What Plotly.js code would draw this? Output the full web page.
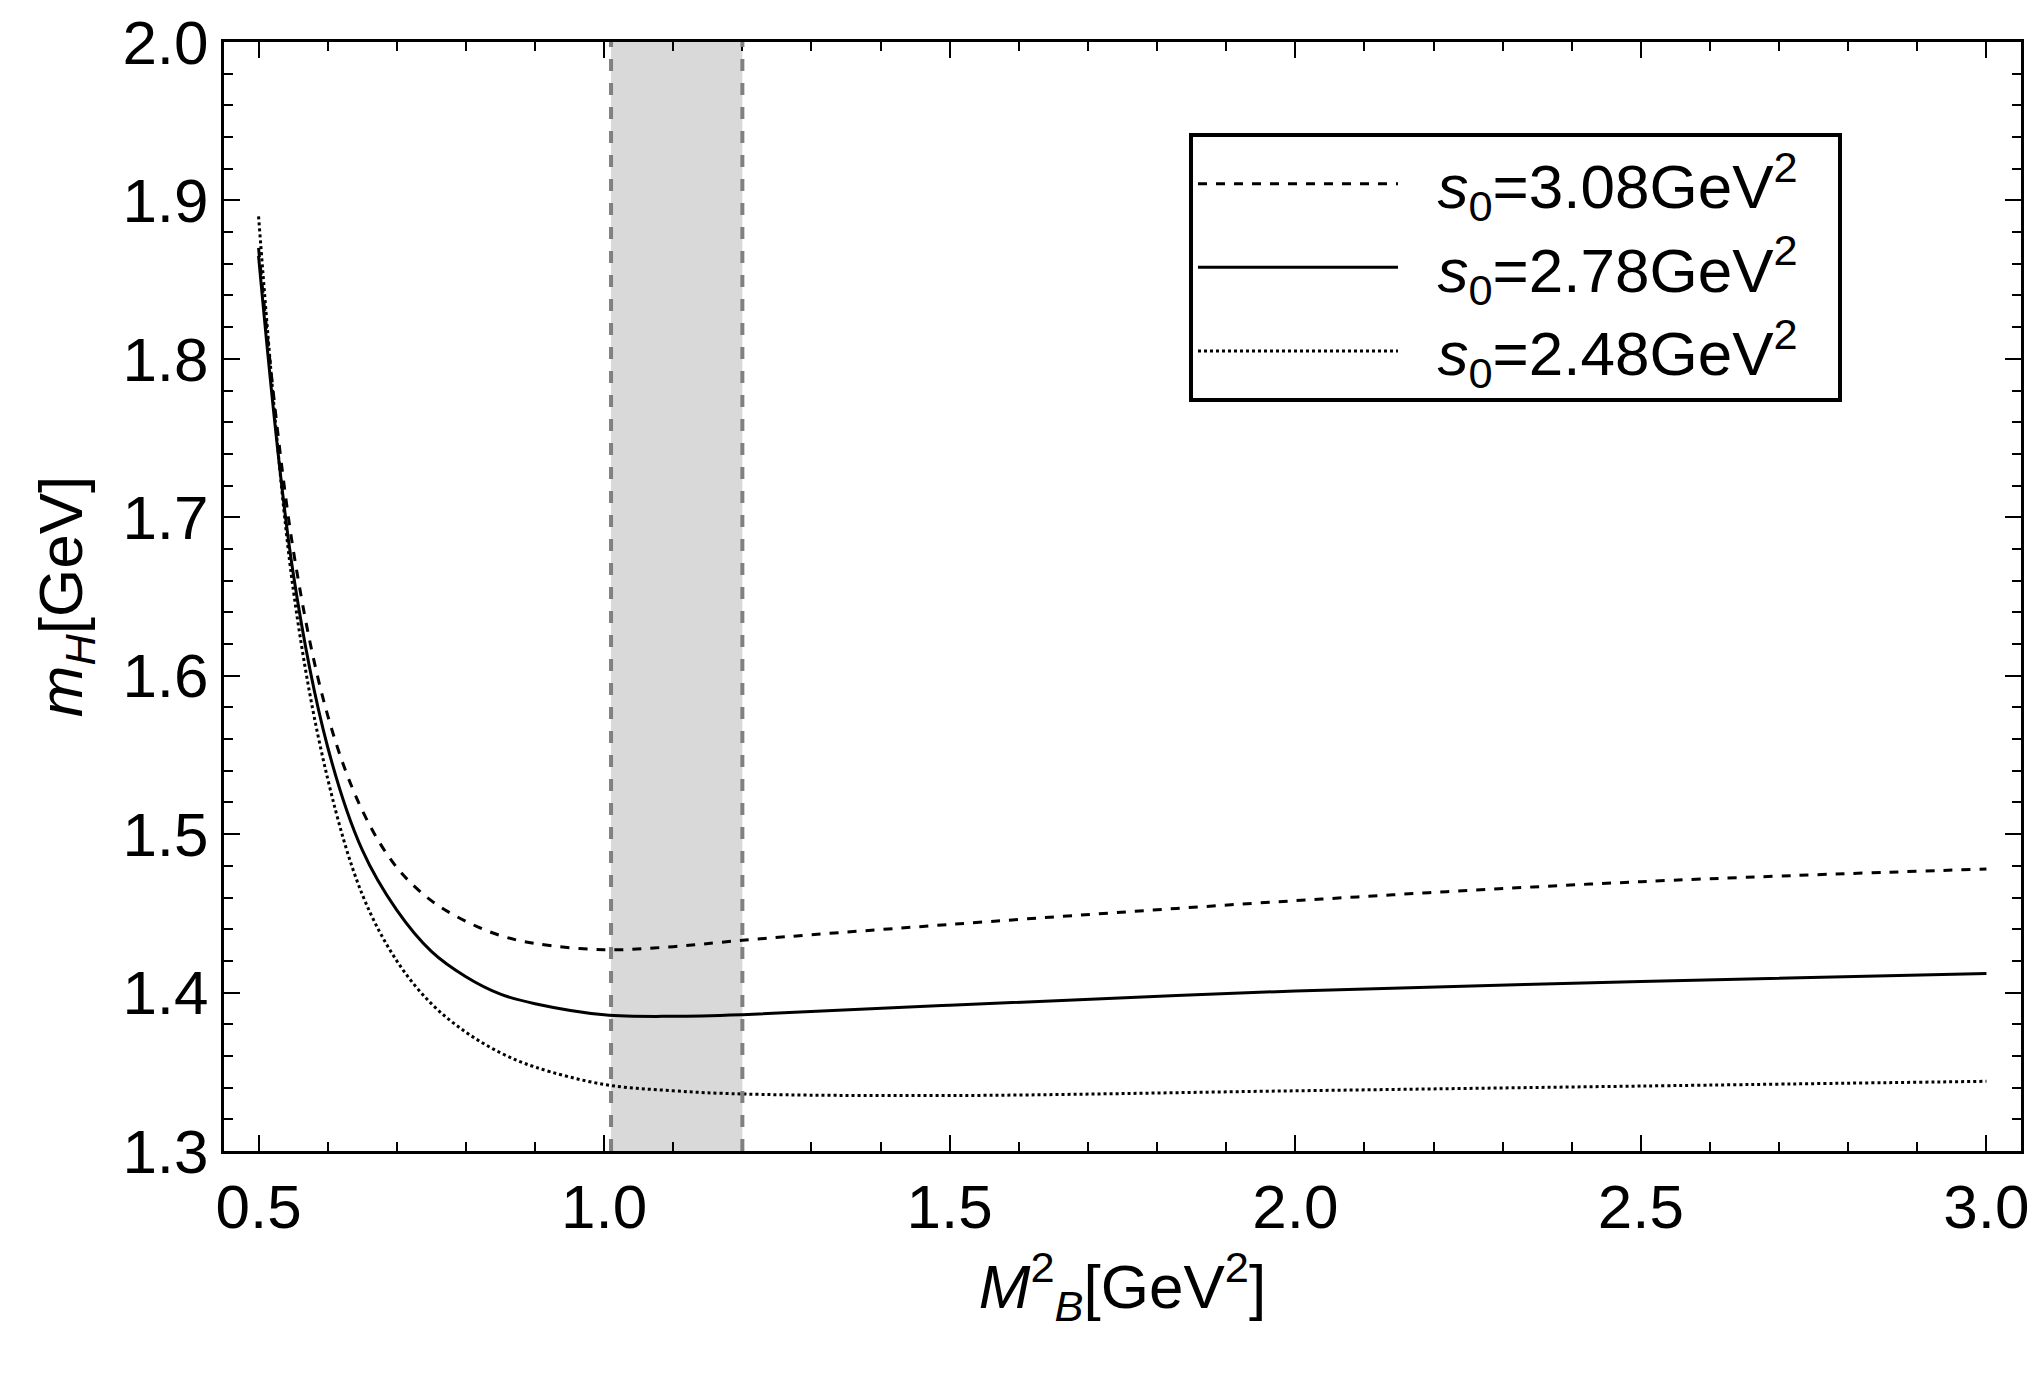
<!DOCTYPE html>
<html>
<head>
<meta charset="utf-8">
<script src="https://cdn.plot.ly/plotly-3.0.1.min.js"></script>
<style>body{margin:0;background:#fff}</style>
</head>
<body>
<div id="chart" style="width:2042px;height:1374px"></div>
<script>
const mb2 = [0.5, 0.55, 0.6, 0.65, 0.7, 0.75, 0.8, 0.85, 0.9, 1.0, 1.1, 1.2, 1.5, 2.0, 2.5, 3.0];
const s308 = [1.87, 1.68, 1.575, 1.515, 1.479, 1.458, 1.445, 1.436, 1.431, 1.427, 1.429, 1.433, 1.443, 1.458, 1.47, 1.478];
const s278 = [1.865, 1.665, 1.555, 1.49, 1.452, 1.426, 1.41, 1.399, 1.393, 1.386, 1.385, 1.386, 1.392, 1.401, 1.407, 1.412];
const s248 = [1.89, 1.655, 1.535, 1.462, 1.42, 1.393, 1.375, 1.362, 1.353, 1.342, 1.338, 1.336, 1.335, 1.338, 1.341, 1.344];
const band = [1.01, 1.2];
const labels = ['  <i>s</i><sub>0</sub>=3.08GeV<sup>2</sup>  ', '  <i>s</i><sub>0</sub>=2.78GeV<sup>2</sup>  ', '  <i>s</i><sub>0</sub>=2.48GeV<sup>2</sup>  '];

const font = {family: 'Liberation Sans, Arial, sans-serif', size: 62, color: '#000'};
const line = (y, dash, name) => ({
  x: mb2, y, name, mode: 'lines',
  line: {color: '#000', width: 3, dash, shape: 'spline', smoothing: 1}
});
const data = [
  line(s308, 'dash', labels[0]),
  line(s278, 'solid', labels[1]),
  line(s248, 'dot', labels[2])
];
const axis = {
  showgrid: false, zeroline: false, showline: true, linecolor: '#000', linewidth: 3,
  mirror: 'allticks', ticks: 'inside', ticklen: 16, tickwidth: 2, tickcolor: '#000',
  tickfont: font,
  minor: {ticks: 'inside', ticklen: 9, tickwidth: 2, tickcolor: '#000'}
};
const layout = {
  font, width: 2042, height: 1374,
  margin: {l: 224, r: 21, t: 42, b: 223},
  paper_bgcolor: '#fff', plot_bgcolor: '#fff',
  xaxis: Object.assign({}, axis, {
    range: [0.45, 3.05], dtick: 0.5, tick0: 0.5, tickformat: '.1f',
    minor: Object.assign({}, axis.minor, {dtick: 0.1}),
    title: {text: '<i>M</i><sup>2</sup><sub><i>B</i></sub>[GeV<sup>2</sup>]', font, standoff: 25}
  }),
  yaxis: Object.assign({}, axis, {
    range: [1.3, 2.0], dtick: 0.1, tickformat: '.1f',
    minor: Object.assign({}, axis.minor, {dtick: 0.02}),
    title: {text: '<i>m<sub>H</sub></i>[GeV]', font, standoff: 20}
  }),
  shapes: [
    {type: 'rect', xref: 'x', yref: 'paper', x0: band[0], x1: band[1], y0: 0, y1: 1,
     fillcolor: '#d9d9d9', line: {width: 0}, layer: 'below'},
    {type: 'line', xref: 'x', yref: 'paper', x0: band[0], x1: band[0], y0: 0, y1: 1,
     line: {color: '#808080', width: 4, dash: 'dash'}},
    {type: 'line', xref: 'x', yref: 'paper', x0: band[1], x1: band[1], y0: 0, y1: 1,
     line: {color: '#808080', width: 4, dash: 'dash'}}
  ],
  showlegend: true,
  legend: {
    x: 0.537, y: 0.918, xanchor: 'left', yanchor: 'top',
    bordercolor: '#000', borderwidth: 4, bgcolor: '#fff',
    font, tracegroupgap: 45, itemwidth: 200
  }
};
Plotly.newPlot('chart', data, layout, {staticPlot: true, displayModeBar: false});
</script>
</body>
</html>
